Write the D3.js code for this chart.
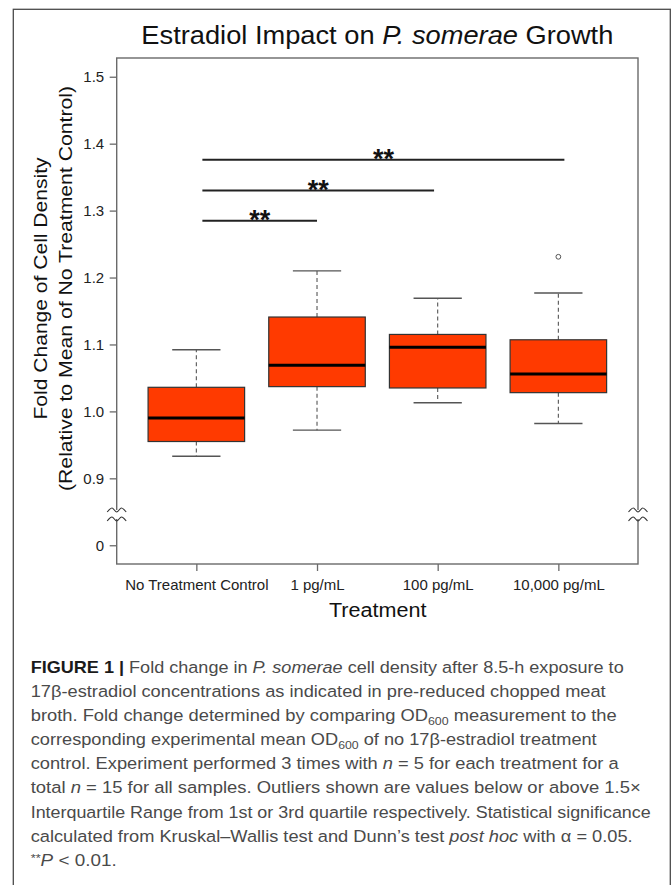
<!DOCTYPE html>
<html>
<head>
<meta charset="utf-8">
<script src="https://cdn.jsdelivr.net/npm/d3@7"></script>
<style>
  body { margin: 0; background: #fff; }
  svg { display: block; }
  text { font-family: "Liberation Sans", Arial, sans-serif; }
</style>
</head>
<body>
<svg id="chart"></svg>
<script>
////////////
// DATA
////////////

// boxplot summary per treatment (fold change)
const categories = ["No Treatment Control", "1 pg/mL", "100 pg/mL", "10,000 pg/mL"];
const whiskerLow = [0.933, 0.972, 1.013, 0.982];
const quart1 = [0.955, 1.037, 1.035, 1.028];
const medians = [0.990, 1.069, 1.096, 1.056];
const quart3 = [1.036, 1.141, 1.115, 1.107];
const whiskerHigh = [1.092, 1.210, 1.169, 1.177];

// outliers: group position + value
const outlierGroup = [4];
const outlierValue = [1.231];

// y axis ticks (axis is broken between 0 and 0.9)
const yTicks = [0, 0.9, 1.0, 1.1, 1.2, 1.3, 1.4, 1.5];

// significance brackets (x in group positions)
const sigFrom = [1.05, 1.05, 1.05];
const sigTo = [2.0, 2.97, 4.05];
const sigLevel = [1.285, 1.330, 1.376];
const sigLabel = ["**", "**", "**"];

// caption, one entry per line: [text, style]
const captionLines = [
    [["FIGURE 1 | ", "b"], ["Fold change in ", ""], ["P. somerae", "i"], [" cell density after 8.5-h exposure to", ""]],
    [["17\u03b2-estradiol concentrations as indicated in pre-reduced chopped meat", ""]],
    [["broth. Fold change determined by comparing OD", ""], ["600", "sub"], [" measurement to the", ""]],
    [["corresponding experimental mean OD", ""], ["600", "sub"], [" of no 17\u03b2-estradiol treatment", ""]],
    [["control. Experiment performed 3 times with ", ""], ["n", "i"], [" = 5 for each treatment for a", ""]],
    [["total ", ""], ["n", "i"], [" = 15 for all samples. Outliers shown are values below or above 1.5\u00d7", ""]],
    [["Interquartile Range from 1st or 3rd quartile respectively. Statistical significance", ""]],
    [["calculated from Kruskal\u2013Wallis test and Dunn\u2019s test ", ""], ["post hoc", "i"], [" with \u03b1 = 0.05.", ""]],
    [["**", "sup"], ["P", "i"], [" < 0.01.", ""]]
];
// measured widths of the caption lines
const captionWidths = [593, 575, 586, 566, 588, 610, 620, 602, 86];

////////////
// SETTINGS
////////////
const width = 672;
const height = 885;
const plot = { left: 116.7, right: 638, top: 58, bottom: 564 };
const boxFill = "#ff3a00";

const svg = d3.select("#chart").attr("width", width).attr("height", height);

// values below the break are drawn shifted up so 0 sits one step under 0.9
function brk(v) {
    return v < 0.85 ? v + 0.8 : v;
}

const x = d3.scaleLinear().domain([0.34, 4.66]).range([plot.left, plot.right]);
const y = d3.scaleLinear().domain([0.772, 1.528]).range([plot.bottom, plot.top]);

////////////
// DRAWING
////////////

// outer figure frame
svg.append("rect")
    .attr("x", 13.3).attr("y", 9.3)
    .attr("width", 657).attr("height", 890)
    .attr("fill", "none")
    .attr("stroke", "#4a4a4a")
    .attr("stroke-width", 1.3);

// plot box
svg.append("rect")
    .attr("x", plot.left).attr("y", plot.top)
    .attr("width", plot.right - plot.left).attr("height", plot.bottom - plot.top)
    .attr("fill", "none")
    .attr("stroke", "#6a6a6a")
    .attr("stroke-width", 1.4);

// axes
const yAxis = d3.axisLeft(y)
    .tickValues(yTicks.map(brk))
    .tickSize(7)
    .tickPadding(5.5)
    .tickFormat((d, i) => yTicks[i] === 0 ? "0" : d3.format(".1f")(yTicks[i]));

svg.append("g")
    .attr("transform", `translate(${plot.left},0)`)
    .call(yAxis)
    .call(g => g.select(".domain").remove())
    .call(g => g.selectAll("line").attr("stroke", "#6a6a6a").attr("stroke-width", 1.3))
    .call(g => g.selectAll("text").attr("font-size", 15).attr("fill", "#222")
        .attr("font-family", "Liberation Sans, Arial, sans-serif"));

const xAxis = d3.axisBottom(x)
    .tickValues([1, 2, 3, 4])
    .tickSize(7)
    .tickPadding(8.6)
    .tickFormat((d, i) => categories[i]);

svg.append("g")
    .attr("transform", `translate(0,${plot.bottom})`)
    .call(xAxis)
    .call(g => g.select(".domain").remove())
    .call(g => g.selectAll("line").attr("stroke", "#6a6a6a").attr("stroke-width", 1.3))
    .call(g => g.selectAll("text").attr("font-size", 15).attr("fill", "#222")
        .attr("font-family", "Liberation Sans, Arial, sans-serif"));

// axis break marks on both sides of the box (drawn between 0.9 and the shifted 0)
function drawBreak(xc) {
    const yc = y(0.846);
    const g = svg.append("g").attr("transform", `translate(${xc},${yc})`);
    g.append("rect")
        .attr("x", -3).attr("y", -4.5)
        .attr("width", 6).attr("height", 9)
        .attr("fill", "#fff");
    const wave = d3.line().curve(d3.curveCatmullRom);
    [-4.5, 4.5].forEach(function (dy) {
        g.append("path")
            .attr("d", wave([[-9.5, dy + 2], [-4.75, dy - 2], [0, dy + 2], [4.75, dy - 2], [9.5, dy + 2]]))
            .attr("fill", "none")
            .attr("stroke", "#333")
            .attr("stroke-width", 1.1);
    });
}
drawBreak(plot.left);
drawBreak(plot.right);

// boxes
const boxW = x(1.4) - x(1);
const capW = x(1.2) - x(1);
const groups = categories.map((c, i) => ({
    pos: i + 1, lo: whiskerLow[i], q1: quart1[i], med: medians[i], q3: quart3[i], hi: whiskerHigh[i]
}));

const bg = svg.append("g").attr("class", "boxes");

// dashed whiskers
bg.selectAll(".whisker-hi")
    .data(groups)
    .join("line")
    .attr("x1", d => x(d.pos)).attr("x2", d => x(d.pos))
    .attr("y1", d => y(d.q3)).attr("y2", d => y(d.hi))
    .attr("stroke", "#555").attr("stroke-width", 1.1)
    .attr("stroke-dasharray", "4,3");
bg.selectAll(".whisker-lo")
    .data(groups)
    .join("line")
    .attr("x1", d => x(d.pos)).attr("x2", d => x(d.pos))
    .attr("y1", d => y(d.q1)).attr("y2", d => y(d.lo))
    .attr("stroke", "#555").attr("stroke-width", 1.1)
    .attr("stroke-dasharray", "4,3");

// whisker caps
["lo", "hi"].forEach(function (k) {
    bg.selectAll(".cap-" + k)
        .data(groups)
        .join("line")
        .attr("x1", d => x(d.pos) - capW).attr("x2", d => x(d.pos) + capW)
        .attr("y1", d => y(d[k])).attr("y2", d => y(d[k]))
        .attr("stroke", "#555").attr("stroke-width", 1.4);
});

bg.selectAll("rect")
    .data(groups)
    .join("rect")
    .attr("x", d => x(d.pos) - boxW).attr("width", 2 * boxW)
    .attr("y", d => y(d.q3)).attr("height", d => y(d.q1) - y(d.q3))
    .attr("fill", boxFill)
    .attr("stroke", "#333").attr("stroke-width", 1.2);

bg.selectAll(".median")
    .data(groups)
    .join("line")
    .attr("class", "median")
    .attr("x1", d => x(d.pos) - boxW).attr("x2", d => x(d.pos) + boxW)
    .attr("y1", d => y(d.med)).attr("y2", d => y(d.med))
    .attr("stroke", "#000").attr("stroke-width", 3);

// outliers
svg.selectAll(".outlier")
    .data(outlierGroup)
    .join("circle")
    .attr("class", "outlier")
    .attr("cx", d => x(d))
    .attr("cy", (d, i) => y(outlierValue[i]))
    .attr("r", 2.4)
    .attr("fill", "none")
    .attr("stroke", "#555")
    .attr("stroke-width", 1);

// significance bars
const sig = svg.append("g").attr("class", "sig");
sig.selectAll("line")
    .data(sigLevel)
    .join("line")
    .attr("x1", (d, i) => x(sigFrom[i])).attr("x2", (d, i) => x(sigTo[i]))
    .attr("y1", d => y(d)).attr("y2", d => y(d))
    .attr("stroke", "#222").attr("stroke-width", 2);
sig.selectAll("text")
    .data(sigLevel)
    .join("text")
    .attr("x", (d, i) => x((sigFrom[i] + sigTo[i]) / 2))
    .attr("y", d => y(d) + 8)
    .attr("text-anchor", "middle")
    .attr("font-size", 27)
    .attr("font-weight", "bold")
    .attr("fill", "#111")
    .text((d, i) => sigLabel[i]);

// title
const title = svg.append("text")
    .attr("x", (plot.left + plot.right) / 2)
    .attr("y", 44.3)
    .attr("text-anchor", "middle")
    .attr("font-size", 25)
    .attr("fill", "#111")
    .attr("textLength", 472)
    .attr("lengthAdjust", "spacingAndGlyphs");
title.append("tspan").text("Estradiol Impact on ");
title.append("tspan").attr("font-style", "italic").text("P. somerae");
title.append("tspan").text(" Growth");

// axis titles
svg.append("text")
    .attr("x", 377.7).attr("y", 617)
    .attr("text-anchor", "middle")
    .attr("font-size", 19.5)
    .attr("fill", "#111")
    .attr("textLength", 97.5)
    .attr("lengthAdjust", "spacingAndGlyphs")
    .text("Treatment");

const yLabels = ["Fold Change of Cell Density", "(Relative to Mean of No Treatment Control)"];
const yLabelX = [46.5, 72];
const yLabelLen = [262, 405];
svg.selectAll(".ylab")
    .data(yLabels)
    .join("text")
    .attr("class", "ylab")
    .attr("transform", (d, i) => `translate(${yLabelX[i]},288.5) rotate(-90)`)
    .attr("text-anchor", "middle")
    .attr("font-size", 18.5)
    .attr("fill", "#111")
    .attr("textLength", (d, i) => yLabelLen[i])
    .attr("lengthAdjust", "spacingAndGlyphs")
    .text(d => d);

////////////
// CAPTION
////////////
const cap = svg.append("g").attr("class", "caption");
captionLines.forEach(function (segs, li) {
    const t = cap.append("text")
        .attr("x", 30.7)
        .attr("y", 672.7 + li * 24.15)
        .attr("font-size", 16.3)
        .attr("fill", "#4a4a4a")
        .attr("textLength", captionWidths[li])
        .attr("lengthAdjust", "spacingAndGlyphs");
    let shift = 0;
    segs.forEach(function (s) {
        const target = s[1] === "sub" ? 3.5 : (s[1] === "sup" ? -4 : 0);
        const ts = t.append("tspan").text(s[0]);
        if (target !== shift) ts.attr("dy", target - shift);
        shift = target;
        if (s[1] === "b") ts.attr("font-weight", "bold").attr("fill", "#1a1a1a");
        if (s[1] === "i") ts.attr("font-style", "italic");
        if (s[1] === "sub" || s[1] === "sup") ts.attr("font-size", 11);
    });
});
</script>
</body>
</html>
